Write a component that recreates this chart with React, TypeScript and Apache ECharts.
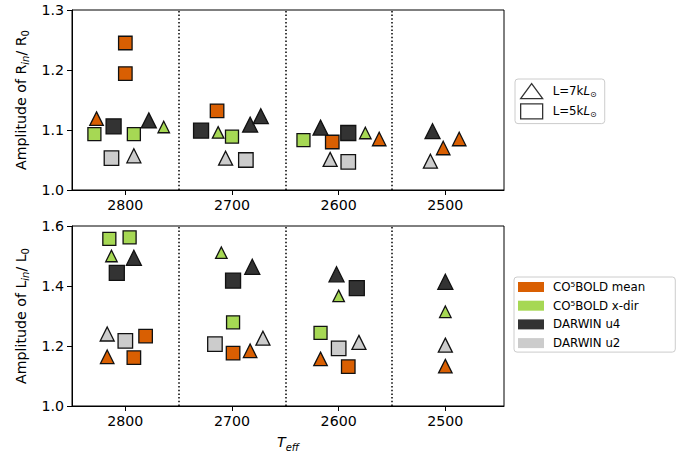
import React, { useEffect, useRef } from "react";
import * as echarts from "echarts";

// ---------- data ----------
// Top panel: amplitude of R_in / R_0
const topMeanSq = [[2800, 1.245], [2800, 1.194], [2714, 1.132], [2606, 1.080]];
const topMeanTri = [[2827, 1.119], [2562, 1.085], [2502, 1.070], [2487, 1.085]];
const topXdirSq = [[2829, 1.093], [2792, 1.093], [2700, 1.089], [2633, 1.083]];
const topXdirTri = [[2764, 1.105], [2713, 1.096], [2575, 1.095]];
const topU4Sq = [[2811, 1.106], [2729, 1.099], [2591, 1.095]];
const topU4Tri = [[2778, 1.116], [2683, 1.109], [2673, 1.123], [2617, 1.104], [2512, 1.098]];
const topU2Sq = [[2813, 1.053], [2687, 1.050], [2591, 1.047]];
const topU2Tri = [[2792, 1.057], [2706, 1.053], [2608, 1.051], [2514, 1.048]];

// Bottom panel: amplitude of L_in / L_0
const botMeanSq = [[2781, 1.233], [2792, 1.161], [2699, 1.176], [2591, 1.131]];
const botMeanTri = [[2817, 1.164], [2683, 1.184], [2617, 1.157], [2500, 1.133]];
const botXdirSq = [[2815, 1.557], [2796, 1.562], [2699, 1.279], [2617, 1.244]];
const botXdirTri = [[2813, 1.500], [2710, 1.511], [2600, 1.367], [2500, 1.314]];
const botU4Sq = [[2808, 1.444], [2699, 1.418], [2583, 1.393]];
const botU4Tri = [[2792, 1.494], [2681, 1.464], [2602, 1.439], [2500, 1.414]];
const botU2Sq = [[2800, 1.217], [2716, 1.206], [2600, 1.192]];
const botU2Tri = [[2817, 1.240], [2671, 1.226], [2581, 1.212], [2500, 1.203]];

const xTicks = [2500, 2600, 2700, 2800];
const separators = [2750, 2650, 2550];
const modelNames = ["CO⁵BOLD mean", "CO⁵BOLD x-dir", "DARWIN u4", "DARWIN u2"];
const lumNames = ["L=7k", "L=5k"];

// ---------- styles ----------
const FONT = "DejaVu Sans";
const colors: Record<string, string> = {
  "CO⁵BOLD mean": "#d95f02",
  "CO⁵BOLD x-dir": "#a6d854",
  "DARWIN u4": "#333333",
  "DARWIN u2": "#cccccc",
};
const triSize: Record<string, number> = {
  "CO⁵BOLD mean": 13.5,
  "CO⁵BOLD x-dir": 11.5,
  "DARWIN u4": 15,
  "DARWIN u2": 14,
};
const sqSize: Record<string, number> = {
  "CO⁵BOLD mean": 13.5,
  "CO⁵BOLD x-dir": 13,
  "DARWIN u4": 15,
  "DARWIN u2": 14.5,
};

const TICK_FS = 14.2;
const LEG_FS = 11.8;

function scatter(name: string, data: number[][], shape: "triangle" | "rect", grid: number, extra: any = {}) {
  return {
    type: "scatter",
    name,
    xAxisIndex: grid,
    yAxisIndex: grid,
    data,
    symbol: shape,
    symbolSize: shape === "triangle" ? triSize[name] : sqSize[name],
    itemStyle: { color: colors[name], borderColor: "#111", borderWidth: 1.3, opacity: 1 },
    emphasis: { disabled: true },
    z: 3,
    ...extra,
  };
}

const sepLine = {
  silent: true,
  symbol: "none",
  label: { show: false },
  lineStyle: { type: [1.5, 2.2], color: "#000", width: 1.5 },
  data: separators.map((v) => ({ xAxis: v })),
  z: 1,
};

export default function App() {
  const ref = useRef<HTMLDivElement>(null);
  useEffect(() => {
    if (!ref.current) return;
    const chart = echarts.init(ref.current, undefined, { renderer: "svg" });

    const subRich = {
      m: { fontFamily: FONT, fontSize: TICK_FS, lineHeight: 20, color: "#000" },
      si: { fontFamily: FONT, fontSize: 10, lineHeight: 10, verticalAlign: "bottom", fontStyle: "italic", color: "#000" },
      s: { fontFamily: FONT, fontSize: 10, lineHeight: 10, verticalAlign: "bottom", color: "#000" },
      ti: { fontFamily: FONT, fontSize: TICK_FS, lineHeight: 20, fontStyle: "italic", color: "#000" },
    };

    const xAxisBase = (gridIndex: number) => ({
      type: "value",
      gridIndex,
      inverse: true,
      min: 2445,
      max: 2850,
      axisLine: { show: true, onZero: false, lineStyle: { color: "#000", width: 1 } },
      axisTick: { show: true, length: 5, customValues: xTicks, lineStyle: { color: "#000", width: 1 } },
      axisLabel: {
        show: true,
        customValues: xTicks,
        margin: 8,
        fontFamily: FONT,
        fontSize: TICK_FS,
        color: "#000",
        formatter: (v: number) => String(Math.round(v)),
      },
      splitLine: { show: false },
    });

    const yAxisBase = (gridIndex: number, min: number, max: number, interval: number) => ({
      type: "value",
      gridIndex,
      min,
      max,
      interval,
      axisLine: { show: true, lineStyle: { color: "#000", width: 1 } },
      axisTick: { show: true, length: 5, lineStyle: { color: "#000", width: 1 } },
      axisLabel: {
        margin: 8,
        fontFamily: FONT,
        fontSize: TICK_FS,
        color: "#000",
        formatter: (v: number) => v.toFixed(1),
      },
      splitLine: { show: false },
      nameLocation: "middle",
      nameGap: 37,
      nameRotate: 90,
      nameTextStyle: { rich: subRich },
    });

    const lumRich = {
      i: { fontFamily: FONT, fontSize: LEG_FS, fontStyle: "italic", color: "#000", lineHeight: 15 },
      s: { fontFamily: FONT, fontSize: 8, color: "#000", lineHeight: 8, verticalAlign: "bottom" },
    };

    const option: any = {
      animation: false,
      backgroundColor: "#fff",
      grid: [
        { left: 72, top: 10, width: 432, height: 180, show: true, borderColor: "#000", borderWidth: 1, backgroundColor: "transparent" },
        { left: 72, top: 226, width: 432, height: 180, show: true, borderColor: "#000", borderWidth: 1, backgroundColor: "transparent" },
      ],
      xAxis: [
        xAxisBase(0),
        {
          ...xAxisBase(1),
          name: "{ti|T}{si|eff}",
          nameLocation: "middle",
          nameGap: 26,
          nameTextStyle: { rich: subRich },
        },
      ],
      yAxis: [
        { ...yAxisBase(0, 1.0, 1.3, 0.1), name: "{m|Amplitude of R}{si|in}{m|/ R}{s|0}" },
        { ...yAxisBase(1, 1.0, 1.6, 0.2), name: "{m|Amplitude of L}{si|in}{m|/ L}{s|0}" },
      ],
      legend: [
        {
          left: 515,
          top: 79,
          orient: "vertical",
          itemWidth: 22,
          itemHeight: 15,
          itemGap: 4,
          padding: [4, 8, 4, 5],
          borderColor: "#cccccc",
          borderWidth: 1,
          borderRadius: 3,
          backgroundColor: "rgba(255,255,255,0.8)",
          selectedMode: false,
          symbolKeepAspect: true,
          textStyle: { fontFamily: FONT, fontSize: LEG_FS, color: "#000", padding: [0, 0, 0, 5], rich: lumRich },
          formatter: (n: string) => `${n}{i|L}{s|⊙}`,
          data: [
            { name: lumNames[0], icon: "triangle", itemStyle: { color: "#fff", borderColor: "#000", borderWidth: 1.3 } },
            { name: lumNames[1], icon: "rect", itemStyle: { color: "#fff", borderColor: "#000", borderWidth: 1.3 } },
          ],
        },
        {
          left: 514,
          top: 277,
          orient: "vertical",
          itemWidth: 26,
          itemHeight: 10,
          itemGap: 4.7,
          padding: [3, 30, 2, 4],
          borderColor: "#cccccc",
          borderWidth: 1,
          borderRadius: 3,
          backgroundColor: "rgba(255,255,255,0.8)",
          selectedMode: false,
          textStyle: { fontFamily: FONT, fontSize: LEG_FS, color: "#000", lineHeight: 14, padding: [0, 0, 0, 4] },
          data: modelNames.map((n) => ({
            name: n,
            icon: "rect",
            itemStyle: { color: colors[n], borderWidth: 0 },
          })),
        },
      ],
      series: [
        { type: "scatter", name: lumNames[0], xAxisIndex: 0, yAxisIndex: 0, data: [], symbol: "triangle" },
        { type: "scatter", name: lumNames[1], xAxisIndex: 0, yAxisIndex: 0, data: [], symbol: "rect" },
        scatter(modelNames[0], topMeanSq, "rect", 0, { markLine: sepLine }),
        scatter(modelNames[0], topMeanTri, "triangle", 0),
        scatter(modelNames[1], topXdirSq, "rect", 0),
        scatter(modelNames[1], topXdirTri, "triangle", 0),
        scatter(modelNames[2], topU4Sq, "rect", 0),
        scatter(modelNames[2], topU4Tri, "triangle", 0),
        scatter(modelNames[3], topU2Sq, "rect", 0),
        scatter(modelNames[3], topU2Tri, "triangle", 0),
        scatter(modelNames[0], botMeanSq, "rect", 1, { markLine: sepLine }),
        scatter(modelNames[0], botMeanTri, "triangle", 1),
        scatter(modelNames[1], botXdirSq, "rect", 1),
        scatter(modelNames[1], botXdirTri, "triangle", 1),
        scatter(modelNames[2], botU4Sq, "rect", 1),
        scatter(modelNames[2], botU4Tri, "triangle", 1),
        scatter(modelNames[3], botU2Sq, "rect", 1),
        scatter(modelNames[3], botU2Tri, "triangle", 1),
      ],
    };
    chart.setOption(option);
    return () => chart.dispose();
  }, []);
  return (
    <div
      ref={ref}
      style={{ position: "fixed", left: 0, top: 0, width: 686, height: 456, background: "#fff" }}
    />
  );
}
